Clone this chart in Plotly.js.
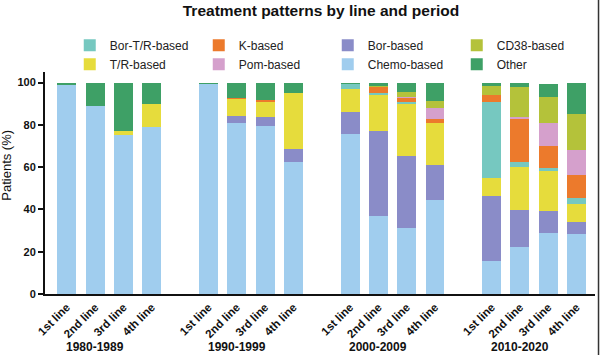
<!DOCTYPE html>
<html>
<head>
<meta charset="utf-8">
<script src="https://cdn.plot.ly/plotly-3.0.1.min.js"></script>
<style>html,body{margin:0;padding:0;background:#fff;}#chart{width:600px;height:355px;}</style>
</head>
<body>
<div id="chart"></div>
<script>
// Periods and lines of therapy
const periods = ["1980-1989", "1990-1999", "2000-2009", "2010-2020"];
const lines = ["1st line", "2nd line", "3rd line", "4th line"];

// Series values (% of patients), one value per bar, ordered period by period, line by line
const chemo   = [99, 89, 75, 79,   99.5, 81, 79.5, 62.5,   75.5, 37, 31.4, 44.5,   15.5, 22, 29, 28.5];
const bor     = [0, 0, 0, 0,       0, 3, 4, 6,             10.5, 40.3, 33.9, 16.5,  31, 17.7, 10.2, 5.5];
const tr      = [0, 0, 2, 11,      0, 8, 7.5, 26.5,        11, 17, 24.4, 20.1,      8.4, 20.4, 19, 8.4];
const borTR   = [0, 0, 0, 0,       0, 0, 0, 0,             2.5, 1, 1.3, 0,          35.7, 2.1, 1.6, 3.2];
const kBased  = [0, 0, 0, 0,       0, 0.5, 0.8, 0,         0, 2.5, 1.6, 1.6,        3.7, 20.8, 10, 10.6];
const pom     = [0, 0, 0, 0,       0, 0, 0, 0,             0, 0, 0.8, 5.3,          0, 0.8, 11.3, 11.8];
const cd38    = [0, 0, 0, 0,       0, 0, 0, 0,             0, 0.8, 2.0, 3.2,        4.3, 13.9, 11.9, 17.1];
const other   = [1, 11, 23, 10,    0.5, 7.5, 8, 5,         0.5, 1.4, 4.6, 8.8,      1.4, 2.3, 6.5, 14.9];

const yTicks = [0, 20, 40, 60, 80, 100];

// positions: each period is a block of 4 bars, with a one-slot gap between blocks
const xPos = [], xLabels = [];
periods.forEach((p, g) => lines.forEach((l, i) => { xPos.push(g * 5 + i); xLabels.push(l); }));

const FONT = "Liberation Sans, Arial, Helvetica, sans-serif";

// stack order bottom->top, legend rank for 4-column row-wise legend
const series = [
  {name: "Chemo-based",   y: chemo,  color: "#a0cdee", rank: 7},
  {name: "Bor-based",     y: bor,    color: "#8a8cc8", rank: 3},
  {name: "T/R-based",     y: tr,     color: "#e6dc3c", rank: 5},
  {name: "Bor-T/R-based", y: borTR,  color: "#76c8c0", rank: 1},
  {name: "K-based",       y: kBased, color: "#ec7a2c", rank: 2},
  {name: "Pom-based",     y: pom,    color: "#d5a0cc", rank: 6},
  {name: "CD38-based",    y: cd38,   color: "#b4c23a", rank: 4},
  {name: "Other",         y: other,  color: "#3ea066", rank: 8}
];

const traces = series.map(s => ({
  type: "bar",
  x: xPos,
  y: s.y,
  name: s.name,
  width: 0.67,
  legendrank: s.rank,
  marker: {color: s.color, line: {width: 0}},
  hoverinfo: "skip"
}));

const annotations = periods.map((p, g) => ({
  text: "<b>" + p + "</b>",
  x: g * 5 + 1.0, xref: "x",
  y: -0.24, yref: "paper",
  xanchor: "center", yanchor: "middle",
  showarrow: false,
  font: {family: FONT, size: 12, color: "#111"}
}));
annotations.push({
  text: "Patients (%)",
  textangle: -90,
  x: -0.069, xref: "paper",
  y: 0.578, yref: "paper",
  xanchor: "center", yanchor: "middle",
  showarrow: false,
  font: {family: FONT, size: 13, color: "#111"}
});

const layout = {
  width: 600, height: 355,
  margin: {l: 45, r: 5, t: 72, b: 60.5},
  paper_bgcolor: "#fff", plot_bgcolor: "#fff",
  barmode: "stack",
  showlegend: true,
  title: {text: "<b>Treatment patterns by line and period</b>", x: 0.535, xref: "container", y: 0.97, yref: "container", yanchor: "middle",
          font: {family: FONT, size: 15.5, color: "#111"}},
  legend: {
    orientation: "h",
    x: 0.045, xanchor: "left",
    y: 1.186, yanchor: "top",
    entrywidth: 84, entrywidthmode: "pixels",
    traceorder: "normal",
    font: {family: FONT, size: 12, color: "#222"},
    bgcolor: "rgba(0,0,0,0)"
  },
  xaxis: {
    range: [-0.77, 18.65],
    tickmode: "array", tickvals: xPos, ticktext: xLabels.map(t => "<b>" + t + "</b>"),
    tickangle: -45,
    ticks: "",
    showline: true, linecolor: "#111", linewidth: 2,
    showgrid: false, zeroline: false,
    tickfont: {family: FONT, size: 11.5, color: "#111"},
    fixedrange: true
  },
  yaxis: {
    range: [0, 105],
    tickmode: "array", tickvals: yTicks, ticktext: yTicks.map(v => "<b>" + v + "</b>"),
    ticks: "outside", ticklen: 5, tickwidth: 2, tickcolor: "#111",
    showline: true, linecolor: "#111", linewidth: 2,
    showgrid: false, zeroline: false,
    tickfont: {family: FONT, size: 11, color: "#111"},
    fixedrange: true
  },
  annotations: annotations,
  shapes: [{type: "line", xref: "paper", yref: "paper", x0: 1.0064, x1: 1.0064, y0: -0.3, y1: 1.33,
            line: {color: "#333", width: 1.5}}],
  hovermode: false
};

Plotly.newPlot("chart", traces, layout, {displayModeBar: false, staticPlot: true});
</script>
</body>
</html>
